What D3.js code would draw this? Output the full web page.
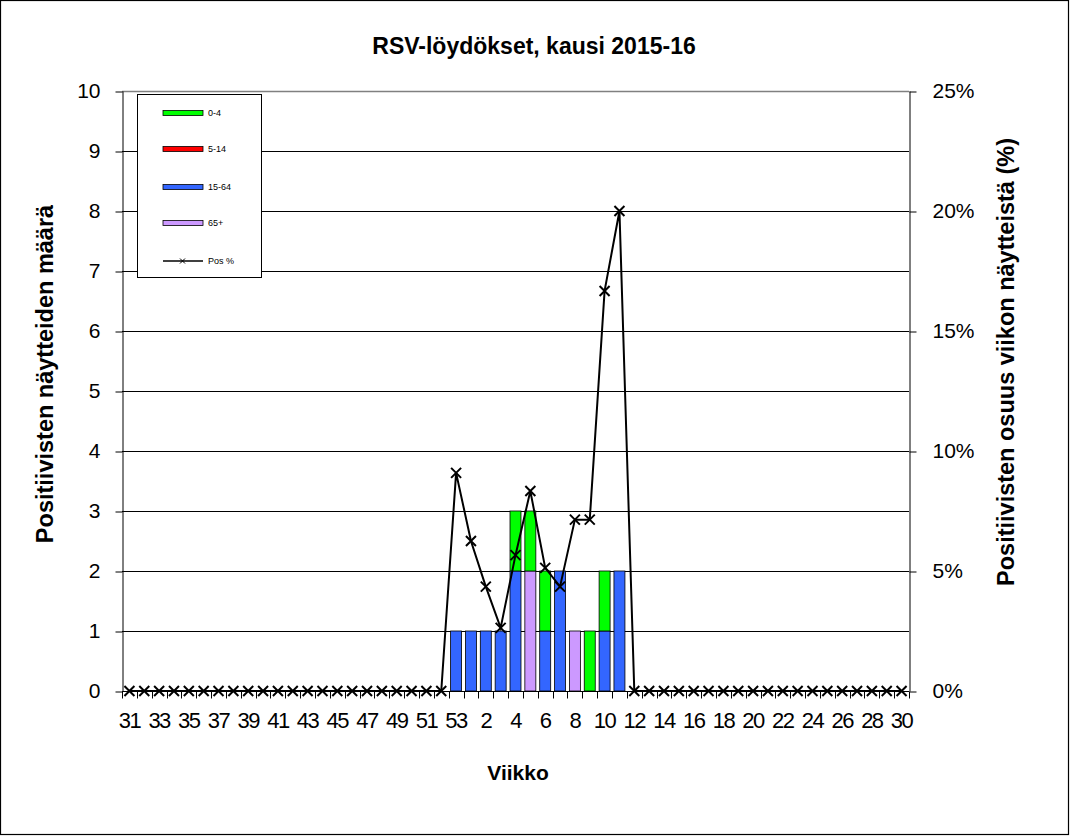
<!DOCTYPE html>
<html>
<head>
<meta charset="utf-8">
<script src="https://cdn.jsdelivr.net/npm/d3@7"></script>
<style>
  body { margin: 0; background: #fff; }
  svg text { font-family: Arial, "Liberation Sans", sans-serif; }
</style>
</head>
<body>
<div id="chart"></div>
<script>
// weeks of the season 2015-16
var weeks = [31,32,33,34,35,36,37,38,39,40,41,42,43,44,45,46,47,48,49,50,51,52,53,
             1,2,3,4,5,6,7,8,9,10,11,12,13,14,15,16,17,18,19,20,21,22,23,24,25,26,27,28,29,30];

// positives per age group (only weeks with findings listed)
var age0_4   = {4:1, 5:1, 6:1, 9:1, 10:1};
var age5_14  = {};
var age15_64 = {53:1, 1:1, 2:1, 3:1, 4:2, 6:1, 7:2, 10:1, 11:2};
var age65    = {5:2, 8:1};

// share of positives (%)
var posPct = {53:9.09, 1:6.25, 2:4.35, 3:2.63, 4:5.66, 5:8.33, 6:5.13, 7:4.35,
              8:7.14, 9:7.14, 10:16.67, 11:20.0};

var groups = ["0-4", "5-14", "15-64", "65+"];
var groupData = [age0_4, age5_14, age15_64, age65];
var colors = ["#00ff00", "#ff0000", "#3366ff", "#cc99ff"];
// stacking order bottom -> top as in the picture
var stackOrder = [3, 2, 1, 0];

var W = 1070, H = 836;
var margin = {top: 91, right: 161, bottom: 145, left: 122},
    width = W - margin.left - margin.right,
    height = H - margin.top - margin.bottom;

var svgRoot = d3.select("#chart").append("svg")
    .attr("width", W)
    .attr("height", H);

svgRoot.append("rect")
    .attr("x", 0.5).attr("y", 0.5)
    .attr("width", W - 2).attr("height", H - 2)
    .attr("fill", "white")
    .attr("stroke", "black")
    .attr("stroke-width", 1.2);

var svg = svgRoot.append("g")
    .attr("transform", "translate(" + margin.left + "," + margin.top + ")");

var x = d3.scaleBand()
    .domain(weeks)
    .range([0, width])
    .padding(0);

var y = d3.scaleLinear().domain([0, 10]).range([height, 0]);
var y2 = d3.scaleLinear().domain([0, 25]).range([height, 0]);

// gridlines
svg.append("g")
  .selectAll("line")
  .data(d3.range(1, 10))
  .enter()
  .append("line")
    .attr("x1", 0).attr("x2", width)
    .attr("y1", function(d) { return y(d) + 0.5 })
    .attr("y2", function(d) { return y(d) + 0.5 })
    .attr("stroke", "black")
    .attr("stroke-width", 1);

// top border of plot area (grey)
svg.append("line")
    .attr("x1", 0).attr("x2", width)
    .attr("y1", 0.5).attr("y2", 0.5)
    .attr("stroke", "#808080")
    .attr("stroke-width", 1.5);

// stacked bars
var barW = x.bandwidth() * 0.74;
weeks.forEach(function(w) {
  var base = 0;
  stackOrder.forEach(function(gi) {
    var v = groupData[gi][w] || 0;
    if (v > 0) {
      svg.append("rect")
        .attr("x", x(w) + (x.bandwidth() - barW) / 2)
        .attr("y", y(base + v))
        .attr("width", barW)
        .attr("height", y(base) - y(base + v))
        .attr("fill", colors[gi])
        .attr("stroke", "black")
        .attr("stroke-width", 0.8);
      base += v;
    }
  });
});

// Left axis
var yAxis = svg.append("g")
    .attr("transform", "translate(0.5,0)")
    .call(d3.axisLeft(y).ticks(10).tickSize(7).tickSizeOuter(0));
yAxis.selectAll("text").style("font-size", "21px").attr("fill", "black").attr("x", -22);
yAxis.selectAll("line").attr("stroke", "black").attr("transform", "translate(0,0.5)");
yAxis.select(".domain").attr("stroke", "black");

// Right axis
var yAxis2 = svg.append("g")
    .attr("transform", "translate(" + (width + 0.5) + ",0)")
    .call(d3.axisRight(y2).tickValues([0, 5, 10, 15, 20, 25]).tickSize(7).tickSizeOuter(0)
      .tickFormat(function(d) { return d + "%" }));
yAxis2.selectAll("text").style("font-size", "21px").attr("fill", "black").attr("x", 23);
yAxis2.selectAll("line").attr("stroke", "black").attr("transform", "translate(0,0.5)");
yAxis2.select(".domain").attr("stroke", "black");

// X axis: ticks at category boundaries, labels every other week
var xg = svg.append("g").attr("transform", "translate(0," + (height + 0.5) + ")");
xg.append("line").attr("x1", 0).attr("x2", width).attr("stroke", "black");
xg.selectAll("line.tk")
  .data(weeks)
  .enter()
  .append("line")
    .attr("class", "tk")
    .attr("x1", function(d) { return Math.round(x(d) + x.bandwidth()) + 0.5 })
    .attr("x2", function(d) { return Math.round(x(d) + x.bandwidth()) + 0.5 })
    .attr("y1", 0).attr("y2", 7)
    .attr("stroke", "black");
xg.append("line").attr("x1", 0.5).attr("x2", 0.5).attr("y1", 0).attr("y2", 7).attr("stroke", "black");
xg.selectAll("text")
  .data(weeks.filter(function(d, i) { return i % 2 == 0 }))
  .enter()
  .append("text")
    .attr("x", function(d) { return x(d) + x.bandwidth() / 2 })
    .attr("y", 36)
    .attr("text-anchor", "middle")
    .style("font-size", "22px")
    .style("letter-spacing", "-1.5px")
    .text(function(d) { return d });

// Pos % line
var lineData = weeks.map(function(w) { return {w: w, v: posPct[w] || 0} });
svg.append("path")
    .datum(lineData)
    .attr("fill", "none")
    .attr("stroke", "black")
    .attr("stroke-width", 2)
    .attr("d", d3.line()
      .x(function(d) { return x(d.w) + x.bandwidth() / 2 })
      .y(function(d) { return y2(d.v) }));

var s = 5;
svg.append("g")
  .selectAll("path")
  .data(lineData)
  .enter()
  .append("path")
    .attr("transform", function(d) {
      return "translate(" + (x(d.w) + x.bandwidth() / 2) + "," + y2(d.v) + ")" })
    .attr("d", "M" + (-s) + "," + (-s) + "L" + s + "," + s + "M" + (-s) + "," + s + "L" + s + "," + (-s))
    .attr("stroke", "black")
    .attr("stroke-width", 2);

// Titles
svgRoot.append("text")
    .attr("x", 534).attr("y", 54)
    .attr("text-anchor", "middle")
    .style("font-size", "23px").style("font-weight", "bold")
    .text("RSV-löydökset, kausi 2015-16");

svgRoot.append("text")
    .attr("x", 518).attr("y", 780)
    .attr("text-anchor", "middle")
    .style("font-size", "21px").style("font-weight", "bold")
    .text("Viikko");

svgRoot.append("text")
    .attr("transform", "translate(53,374) rotate(-90)")
    .attr("text-anchor", "middle")
    .style("font-size", "23.5px").style("font-weight", "bold")
    .text("Positiivisten näytteiden määrä");

svgRoot.append("text")
    .attr("transform", "translate(1014,362) rotate(-90)")
    .attr("text-anchor", "middle")
    .style("font-size", "23.5px").style("font-weight", "bold")
    .text("Positiivisten osuus viikon näytteistä (%)");

// Legend
var lg = svgRoot.append("g").attr("transform", "translate(137,94)");
lg.append("rect")
    .attr("x", 0.5).attr("y", 0.5)
    .attr("width", 124).attr("height", 183)
    .attr("fill", "white").attr("stroke", "black").attr("stroke-width", 1);
var legendY = [19, 55, 93, 129];
groups.forEach(function(g, i) {
  lg.append("rect")
    .attr("x", 26).attr("y", legendY[i] - 2.5)
    .attr("width", 40).attr("height", 5)
    .attr("fill", colors[i]).attr("stroke", "black").attr("stroke-width", 0.8);
  lg.append("text")
    .attr("x", 71).attr("y", legendY[i] + 3)
    .style("font-size", "9px")
    .text(g);
});
lg.append("line").attr("x1", 26).attr("x2", 66).attr("y1", 167).attr("y2", 167)
    .attr("stroke", "black").attr("stroke-width", 1.5);
lg.append("path")
    .attr("d", "M43,164.5L48,169.5M43,169.5L48,164.5")
    .attr("stroke", "black").attr("stroke-width", 1);
lg.append("text")
    .attr("x", 71).attr("y", 170)
    .style("font-size", "9px")
    .text("Pos  %");
</script>
</body>
</html>
